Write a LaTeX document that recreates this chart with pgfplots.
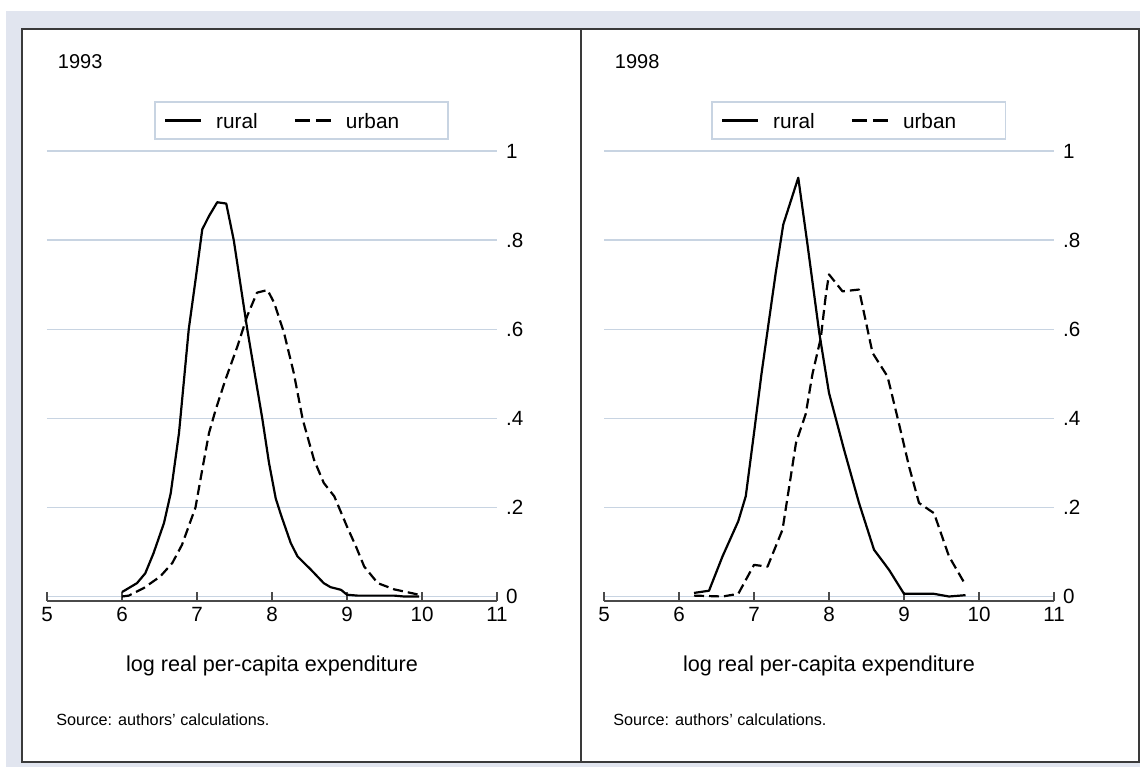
\documentclass[border=0pt]{standalone}
\usepackage{pgfplots}
\pgfplotsset{compat=1.18}
\usepackage{pgfplotstable}
\usepackage{fontspec}
\setmainfont{Liberation Sans}

\definecolor{bgcol}{HTML}{E1E5EF}
\definecolor{gridcol}{HTML}{C8D4E2}
\definecolor{framecol}{HTML}{3A3A3A}
\definecolor{axcol}{HTML}{4A4A4A}

% 1993
\pgfplotstableread{
x y
6.00 0.010
6.20 0.030
6.31 0.052
6.42 0.097
6.56 0.165
6.65 0.232
6.76 0.367
6.89 0.600
6.98 0.710
7.07 0.824
7.16 0.854
7.27 0.885
7.39 0.882
7.49 0.800
7.58 0.700
7.67 0.600
7.77 0.500
7.87 0.400
7.96 0.300
8.05 0.220
8.12 0.183
8.25 0.120
8.34 0.090
8.52 0.060
8.69 0.030
8.78 0.021
8.92 0.015
9.00 0.004
9.14 0.002
9.63 0.002
9.76 0.000
9.96 0.000
}\ruralA
\pgfplotstableread{
x y
6.00 0.000
6.09 0.002
6.29 0.019
6.51 0.045
6.67 0.075
6.80 0.116
6.98 0.200
7.07 0.285
7.16 0.367
7.25 0.420
7.38 0.487
7.54 0.562
7.67 0.630
7.80 0.682
7.94 0.688
8.03 0.659
8.16 0.592
8.29 0.502
8.41 0.397
8.56 0.307
8.69 0.255
8.83 0.225
9.00 0.157
9.12 0.112
9.23 0.067
9.41 0.030
9.63 0.016
9.96 0.004
}\urbanA
% 1998
\pgfplotstableread{
x y
6.20 0.008
6.40 0.013
6.58 0.090
6.79 0.169
6.89 0.225
7.00 0.367
7.10 0.500
7.20 0.620
7.29 0.727
7.39 0.835
7.59 0.940
7.71 0.794
7.87 0.592
8.00 0.457
8.20 0.330
8.40 0.210
8.60 0.105
8.80 0.060
9.00 0.006
9.40 0.006
9.60 0.000
9.82 0.003
}\ruralB
\pgfplotstableread{
x y
6.20 0.002
6.58 0.000
6.79 0.006
7.00 0.071
7.18 0.067
7.38 0.150
7.56 0.345
7.69 0.410
7.78 0.500
7.89 0.580
7.96 0.680
8.00 0.723
8.18 0.685
8.40 0.689
8.58 0.547
8.78 0.494
8.93 0.390
9.07 0.290
9.20 0.210
9.40 0.187
9.60 0.090
9.82 0.026
}\urbanB

\pgfplotsset{
  panel/.style={
    scale only axis, width=225pt, height=224.75pt,
    xmin=5, xmax=11, ymin=-0.009, ymax=1,
    axis x line*=bottom, axis y line*=right,
    x axis line style={-, draw=axcol, line width=1pt},
    y axis line style={draw=none},
    xtick={5,6,7,8,9,10,11},
    ytick={0,0.2,0.4,0.6,0.8,1}, yticklabels={0,.2,.4,.6,.8,1},
    xtick align=inside, major tick length=4.5pt,
    xtick style={draw=axcol, line width=0.8pt},
    ytick style={draw=none},
    yticklabel style={anchor=west, xshift=1pt},
    ymajorgrids, grid style={draw=gridcol, line width=0.7pt},
    tick label style={font=\fontsize{10.3}{12}\selectfont},
    /pgf/number format/assume math mode=true,
    xlabel={log real per-capita expenditure},
    xlabel style={at={(rel axis cs:0.5,0)}, anchor=base, yshift=-35.6pt,
      font=\fontsize{10.8}{13}\selectfont},
    legend columns=2,
    legend style={at={(axis description cs:0.2384,1.111)}, anchor=north west,
      draw=gridcol, line width=0.7pt, fill=white, inner xsep=4.5pt, inner ysep=5.5pt,
      font=\fontsize{10.4}{12}\selectfont,
      nodes={inner xsep=0pt, inner ysep=0pt, text height=7.6pt, text depth=0pt},
      /tikz/every odd column/.append style={column sep=7pt},
      /tikz/every even column/.append style={column sep=18pt}},
    legend image code/.code={\draw[#1] (0pt,0pt) -- (18pt,0pt);},
    clip=false,
  },
  curve/.style={black, line width=1.1pt, line join=round},
}

\begin{document}
\begin{tikzpicture}[x=0.5pt,y=-0.5pt]
\path[use as bounding box] (0,0) rectangle (1140,767);
\fill[white] (0,0) rectangle (1140,767);
\fill[bgcol] (6,11) rectangle (1140,767);
\draw[framecol, line width=1pt, fill=white] (22,29) rectangle (1139,762);
\draw[framecol, line width=1pt] (581,29) -- (581,762);

\node[anchor=base west, inner sep=0, font=\fontsize{10}{12}\selectfont] at (57.5,68.3) {1993};
\node[anchor=base west, inner sep=0, font=\fontsize{10}{12}\selectfont] at (614.5,68.3) {1998};
\node[anchor=base west, inner sep=0, font=\fontsize{8.1}{10}\selectfont] at (56,725.7) {Source: authors' calculations.};
\node[anchor=base west, inner sep=0, font=\fontsize{8.1}{10}\selectfont] at (613,725.7) {Source: authors' calculations.};

\begin{axis}[panel, at={(23.5pt,-300.25pt)}, anchor=south west]
\addlegendimage{curve}
\addlegendentry{rural}
\addlegendimage{curve, dash pattern=on 7.5pt off 3pt}
\addlegendentry{urban\rule{20pt}{0pt}}
\addplot[curve, forget plot] table {\ruralA};
\addplot[curve, dash pattern=on 5pt off 2.5pt, forget plot] table {\urbanA};
\end{axis}

\begin{axis}[panel, at={(302pt,-300.25pt)}, anchor=south west]
\addlegendimage{curve}
\addlegendentry{rural}
\addlegendimage{curve, dash pattern=on 7.5pt off 3pt}
\addlegendentry{urban\rule{20pt}{0pt}}
\addplot[curve, forget plot] table {\ruralB};
\addplot[curve, dash pattern=on 5pt off 2.5pt, forget plot] table {\urbanB};
\end{axis}
\end{tikzpicture}
\end{document}
